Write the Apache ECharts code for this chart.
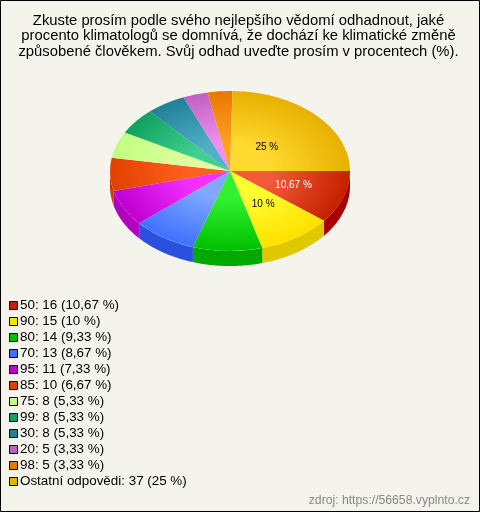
<!DOCTYPE html>
<html><head><meta charset="utf-8">
<style>html,body{margin:0;padding:0;background:#f4f4ec}#c{width:480px;height:512px}</style>
<script src="https://cdn.jsdelivr.net/npm/echarts@6/dist/echarts.min.js"></script>
</head><body><div id="c"></div>
<script>
const titleLines = ['Zkuste prosím podle svého nejlepšího vědomí odhadnout, jaké','procento klimatologů se domnívá, že dochází ke klimatické změně','způsobené člověkem. Svůj odhad uveďte prosím v procentech (%).'];
const categories = ['50','90','80','70','95','85','75','99','30','20','98','Ostatní odpovědi'];
const counts = [16,15,14,13,11,10,8,8,8,5,5,37];
const percents = ['10,67','10','9,33','8,67','7,33','6,67','5,33','5,33','5,33','3,33','3,33','25'];
const rimColors = ['#c42000','#ffe000','#00c000','#4070ff','#c000d0','#e04000','#c0ff80','#10a060','#208098','#c060c0','#e87800','#e8b000'];
const coreColors = ['#f45a38','#ffff30','#30f030','#80a8ff','#f430ff','#ff6020','#e0ffa0','#40d090','#50b0c8','#f090f0','#ffa020','#ffd830'];
const wallColors = ['#a80000','#e0c800','#00a800','#2a50e0','#b000c0','#d03800','#a0e060','#008040','#106078','#a040a0','#c86000','#c89000'];
const labelled = {0:{k:0.56,color:'#fff'},1:{k:0.5,color:'#000'},11:{k:0.43,color:'#000'}};
const source = 'zdroj: https://56658.vyplnto.cz';

const CX=230, CY=171, RX=120, RY=80, DEPTH=15;
const total = counts.reduce((a,b)=>a+b,0);
const starts = counts.map((_,i)=>counts.slice(0,i).reduce((a,b)=>a+b,0)/total*2*Math.PI);
const legendName = i => `${categories[i]}: ${counts[i]} (${percents[i]} %)`;

function renderSlice(i){
  const a0 = starts[i], a1 = a0 + counts[i]/total*2*Math.PI;
  const children = [];
  const w0 = Math.min(a0,Math.PI), w1 = Math.min(a1,Math.PI);
  if (w1 > w0) {
    const top=[], bottom=[];
    for (let s=0;s<=40;s++){
      const t=w0+(w1-w0)*s/40, x=CX+RX*Math.cos(t), y=CY+RY*Math.sin(t);
      top.push([x,y]); bottom.unshift([x,y+DEPTH]);
    }
    children.push({type:'polygon',shape:{points:top.concat(bottom)},style:{fill:wallColors[i]}});
  }
  children.push({type:'sector',x:CX,y:CY,scaleY:RY/RX,
    shape:{cx:0,cy:0,r:RX,r0:0,startAngle:a0,endAngle:a1,clockwise:true},
    style:{fill:new echarts.graphic.RadialGradient(0,0,RX,[
      {offset:0,color:coreColors[i]},{offset:0.35,color:coreColors[i]},{offset:1,color:rimColors[i]}],true)}});
  if (labelled[i]) {
    const m=(a0+a1)/2, L=labelled[i];
    children.push({type:'text',z2:10,style:{x:CX+RX*L.k*Math.cos(m),y:CY+RY*L.k*Math.sin(m),
      text:percents[i]+' %',fill:L.color,font:'10px "Liberation Sans"',align:'center',verticalAlign:'middle'}});
  }
  return {type:'group',children};
}

const chart = echarts.init(document.getElementById('c'),null,{renderer:'canvas'});
chart.setOption({
  animation:false,
  backgroundColor:'#f4f4ec',
  title:{text:titleLines.join('\n'),left:233.5,top:8,textAlign:'center',
    textStyle:{fontFamily:'Liberation Sans',fontSize:14.8,fontWeight:'normal',color:'#000',lineHeight:15.5}},
  legend:{orient:'vertical',left:9,top:299,itemWidth:8,itemHeight:8,itemGap:3,padding:0,
    icon:'rect',selectedMode:false,
    itemStyle:{borderColor:'#000',borderWidth:1},
    textStyle:{fontFamily:'Liberation Sans',fontSize:13.4,color:'#000',padding:[0,0,0,-2.5],lineHeight:12},
    data:categories.map((_,i)=>legendName(i))},
  graphic:[
    {type:'rect',z:100,silent:true,shape:{x:0.5,y:0.5,width:479,height:511},style:{fill:'none',stroke:'#000',lineWidth:1}},
    {type:'text',right:10,top:495,style:{text:source,fill:'#888',font:'12.2px "Liberation Sans"'}}
  ],
  series:categories.map((_,i)=>({
    type:'custom',name:legendName(i),coordinateSystem:'none',
    itemStyle:{color:rimColors[i]},
    data:[counts[i]],
    renderItem:()=>renderSlice(i)
  }))
});
</script></body></html>
